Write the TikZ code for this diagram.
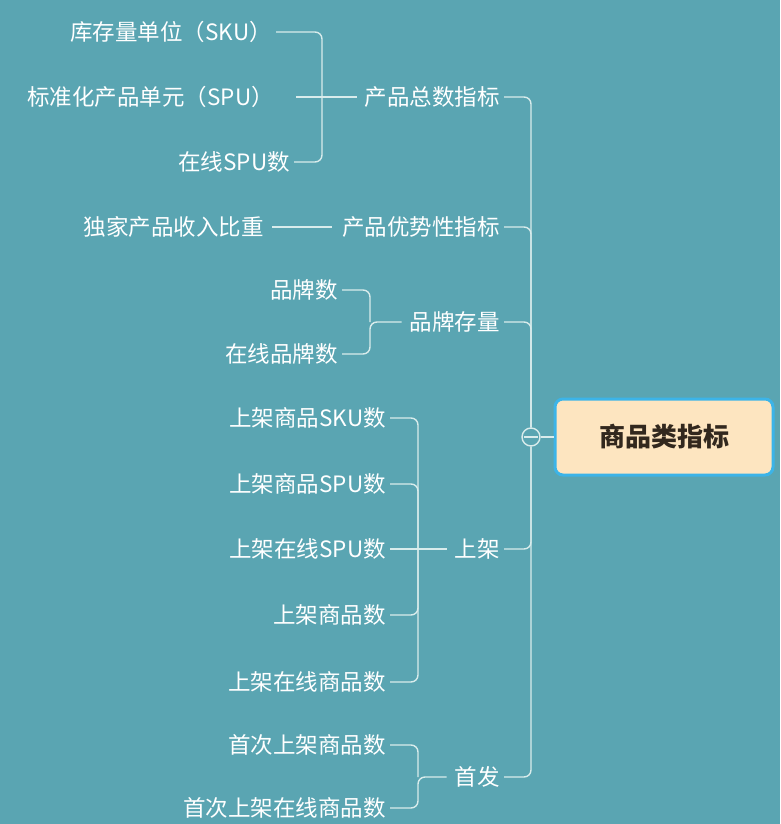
\documentclass[tikz,border=0pt]{standalone}
\usepackage{fontspec}
\setmainfont{Noto Sans CJK SC}
\begin{document}
\begin{tikzpicture}[x=1pt,y=-1pt,
  lbl/.style={anchor=east,text=white,font=\fontsize{22.5}{26}\selectfont,inner xsep=4pt,inner ysep=2pt},
  ln/.style={draw=white!85!teal,line width=1.4pt,rounded corners=7pt}]
\fill[fill={rgb,255:red,90;green,165;blue,178}] (0,0) rectangle (780,824);
\useasboundingbox (0,0) rectangle (780,824);
% root
\node[draw={rgb,255:red,60;green,180;blue,232},line width=3pt,fill={rgb,255:red,253;green,229;blue,192},rounded corners=8pt,minimum width=218pt,minimum height=76pt,font=\fontsize{26}{30}\selectfont\bfseries,text={rgb,255:red,50;green,40;blue,30}] (root) at (664,437) {商品类指标};
\node[circle,draw=white!85!teal,line width=1.4pt,minimum size=18pt,inner sep=0pt] (hub) at (531,437) {};
\draw[white!85!teal,line width=1.4pt] (524,437)--(538,437);
\draw[ln] (hub.east)--(root.west);
% branches
\node[lbl] (b1) at (504,97) {产品总数指标};
\node[lbl] (b2) at (504,227) {产品优势性指标};
\node[lbl] (b3) at (504,322) {品牌存量};
\node[lbl] (b4) at (504,549) {上架};
\node[lbl] (b5) at (504,777) {首发};
\foreach \b in {b1,b2,b3}{\draw[ln] (\b.east) -| (hub.north);}
\foreach \b in {b4,b5}{\draw[ln] (\b.east) -| (hub.south);}
% children
\node[lbl] (c11) at (276,32) {库存量单位（SKU）};
\node[lbl] (c12) at (278,97) {标准化产品单元（SPU）};
\node[lbl] (c13) at (294,162) {在线SPU数};
\node[lbl] (c21) at (268,227) {独家产品收入比重};
\node[lbl] (c31) at (342,290) {品牌数};
\node[lbl] (c32) at (342,354) {在线品牌数};
\node[lbl] (c41) at (390,418) {上架商品SKU数};
\node[lbl] (c42) at (390,484) {上架商品SPU数};
\node[lbl] (c43) at (390,549) {上架在线SPU数};
\node[lbl] (c44) at (390,615) {上架商品数};
\node[lbl] (c45) at (390,682) {上架在线商品数};
\node[lbl] (c51) at (390,745) {首次上架商品数};
\node[lbl] (c52) at (390,808) {首次上架在线商品数};
\draw[ln] (c11.east) -| (322,97);
\draw[ln] (c13.east) -| (322,97);
\draw[ln] (c12.east)++(18,0) -- ([xshift=-4pt]b1.west);
\draw[ln] (c21.east)++(4,0) -- ([xshift=-6pt]b2.west);
\draw[ln] (c31.east) -| (370,322);
\draw[ln] (c32.east) -| (370,322) -- ([xshift=-4pt]b3.west);
\foreach \c in {c41,c42,c44,c45}{\draw[ln] (\c.east) -| (418,549);}
\draw[ln] (c43.east) -- ([xshift=-4pt]b4.west);
\draw[ln] (c51.east) -| (418,777);
\draw[ln] (c52.east) -| (418,777) -- ([xshift=-4pt]b5.west);
\end{tikzpicture}
\end{document}
